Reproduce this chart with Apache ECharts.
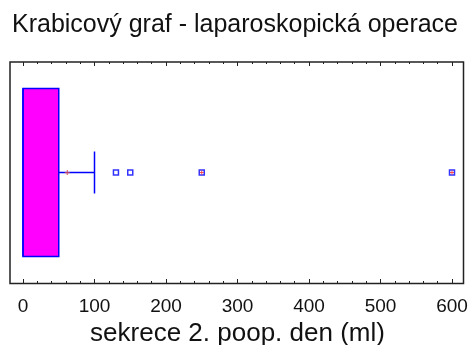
<!DOCTYPE html>
<html>
<head>
<meta charset="utf-8">
<script src="https://cdn.jsdelivr.net/npm/echarts@6/dist/echarts.min.js"></script>
<style>
  html, body { margin: 0; padding: 0; background: #fff; }
  #chart { width: 470px; height: 345px; }
</style>
</head>
<body>
<div id="chart"></div>
<script>
// data
const categories = ['sekrece'];
const q1 = [0];
const median = [0];
const q3 = [50];
const whiskerLow = [0];
const whiskerHigh = [100];
const means = [62];
const outliers = [130, 150];
const farOutliers = [250, 600];
const xTicks = [0, 100, 200, 300, 400, 500, 600];

const chart = echarts.init(document.getElementById('chart'));

const boxData = categories.map((c, i) => [i, q1[i], median[i], q3[i], whiskerLow[i], whiskerHigh[i]]);

function renderBox(params, api) {
  const cat = api.value(0);
  const band = api.size([0, 1])[1];
  const half = band * 0.38;
  const capHalf = band * 0.095;
  const pQ1 = api.coord([api.value(1), cat]);
  const pMed = api.coord([api.value(2), cat]);
  const pQ3 = api.coord([api.value(3), cat]);
  const pLo = api.coord([api.value(4), cat]);
  const pHi = api.coord([api.value(5), cat]);
  const cy = pQ1[1];
  const stroke = { stroke: '#0000ff', lineWidth: 1.5 };
  const children = [
    { type: 'line', shape: { x1: pQ3[0], y1: cy, x2: pHi[0], y2: cy }, style: stroke },
    { type: 'line', shape: { x1: pHi[0], y1: cy - capHalf, x2: pHi[0], y2: cy + capHalf }, style: stroke },
    {
      type: 'rect',
      shape: { x: pQ1[0], y: cy - half, width: pQ3[0] - pQ1[0], height: half * 2 },
      style: { fill: '#ff00ff', stroke: '#0000ff', lineWidth: 1.5 }
    },
    { type: 'line', shape: { x1: pMed[0], y1: cy - half, x2: pMed[0], y2: cy + half }, style: stroke }
  ];
  if (pLo[0] < pQ1[0]) {
    children.push({ type: 'line', shape: { x1: pLo[0], y1: cy, x2: pQ1[0], y2: cy }, style: stroke });
    children.push({ type: 'line', shape: { x1: pLo[0], y1: cy - capHalf, x2: pLo[0], y2: cy + capHalf }, style: stroke });
  }
  return { type: 'group', children: children };
}

const plusPath = 'path://M1.5,0h1v1.5h1.5v1h-1.5v1.5h-1v-1.5h-1.5v-1h1.5z';

const tickStyle = {
  axisLine: { show: false },
  axisTick: { show: true, inside: true, length: 4, lineStyle: { color: '#222', width: 1 } },
  minorTick: { show: true, splitNumber: 5, length: 2, lineStyle: { color: '#222', width: 1 } },
  splitLine: { show: false },
  minorSplitLine: { show: false }
};

chart.setOption({
  animation: false,
  title: {
    text: 'Krabicový graf - laparoskopická operace',
    left: 'center',
    top: 8,
    textStyle: { fontFamily: 'Liberation Sans', fontSize: 25, fontWeight: 'normal', color: '#111' }
  },
  grid: { left: 23, right: 18, top: 62, bottom: 62, containLabel: false, outerBoundsMode: 'none' },
  xAxis: [
    Object.assign({
      type: 'value',
      position: 'bottom',
      min: xTicks[0],
      max: xTicks[xTicks.length - 1],
      interval: 100,
      name: 'sekrece 2. poop. den (ml)',
      nameLocation: 'middle',
      nameGap: 35,
      nameTextStyle: { fontFamily: 'Liberation Sans', fontSize: 26, color: '#111' },
      axisLabel: { margin: 14, fontFamily: 'Liberation Sans', fontSize: 19, color: '#111' }
    }, tickStyle),
    Object.assign({
      type: 'value',
      position: 'top',
      min: xTicks[0],
      max: xTicks[xTicks.length - 1],
      interval: 100,
      axisLabel: { show: false }
    }, tickStyle)
  ],
  yAxis: { type: 'category', data: categories, show: false },
  graphic: [{
    type: 'rect',
    shape: { x: 10, y: 62, width: 453.5, height: 221.5 },
    style: { fill: null, stroke: '#222', lineWidth: 1.5 },
    z: 100
  }],
  series: [
    {
      type: 'custom',
      renderItem: renderBox,
      encode: { x: [1, 2, 3, 4, 5], y: 0 },
      data: boxData,
      z: 2
    },
    {
      type: 'scatter',
      data: means.map((m, i) => [m, categories[i]]),
      symbol: plusPath,
      symbolSize: 5,
      itemStyle: { color: '#e05050' },
      z: 5
    },
    {
      type: 'scatter',
      data: outliers.concat(farOutliers).map(v => [v, categories[0]]),
      symbol: 'rect',
      symbolSize: 5,
      itemStyle: { color: '#ffffff', borderColor: '#0000ff', borderWidth: 1.5 },
      z: 4
    },
    {
      type: 'scatter',
      data: farOutliers.map(v => [v, categories[0]]),
      symbol: plusPath,
      symbolSize: 4,
      itemStyle: { color: '#ff2020' },
      z: 6
    }
  ]
});
</script>
</body>
</html>
